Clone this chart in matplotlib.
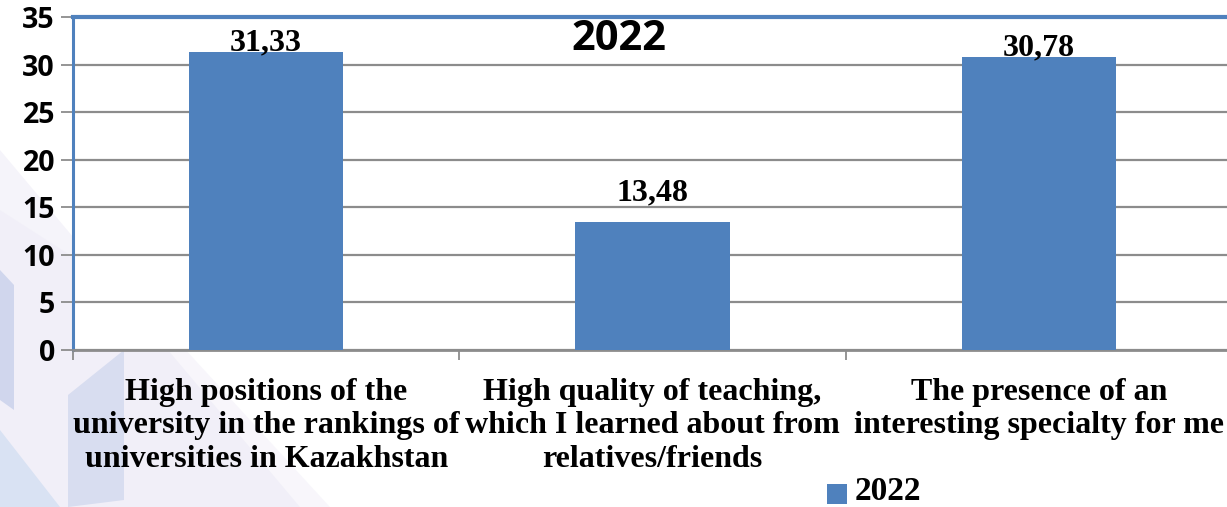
import numpy as np
import matplotlib
matplotlib.use('Agg')
import matplotlib.pyplot as plt
from matplotlib.patches import Polygon, Rectangle

# data
categories = ['High positions of the\nuniversity in the rankings of\nuniversities in Kazakhstan',
              'High quality of teaching,\nwhich I learned about from\nrelatives/friends',
              'The presence of an\ninteresting specialty for me']
values = [31.33, 13.48, 30.78]
value_labels = ['31,33', '13,48', '30,78']
series_name = '2022'
yticks = [0, 5, 10, 15, 20, 25, 30, 35]

bar_colour = '#4F81BD'
W, H = 1227, 507

fig = plt.figure(figsize=(W / 100, H / 100), dpi=100)
fig.patch.set_facecolor('white')


def px(pts):
    return [(x / W, 1 - y / H) for x, y in pts]


# faint background decoration (bottom left)
decor = [
    ([(0, 150), (0, 507), (300, 507)], '#e4e0f2', 0.35),
    ([(0, 210), (140, 300), (330, 507), (0, 507)], '#ebe8f5', 0.35),
    ([(0, 270), (14, 285), (14, 410), (0, 400)], '#a8b9e0', 0.45),
    ([(68, 395), (124, 350), (124, 500), (68, 507)], '#b3c2e4', 0.4),
    ([(0, 430), (60, 507), (0, 507)], '#bcd3ee', 0.45),
]
for pts, col, a in decor:
    fig.add_artist(Polygon(px(pts), closed=True, transform=fig.transFigure,
                           facecolor=col, edgecolor='none', alpha=a, zorder=0))

# axes placement
left, right, top, bottom = 73, 1232, 17, 350
ax = fig.add_axes([left / W, 1 - bottom / H, (right - left) / W, (bottom - top) / H])
ax.set_facecolor('white')

x = np.arange(len(values))
ax.bar(x, values, width=0.4, color=bar_colour, zorder=3)

ax.set_xlim(-0.5, len(values) - 0.5)
ax.set_ylim(0, 35)
ax.set_yticks(yticks)
ax.set_yticklabels([str(t) for t in yticks], fontfamily='Open Sans', fontweight='bold', fontsize=20.5)
ax.yaxis.grid(True, color='#8c8c8c', linewidth=1.6, zorder=1)
ax.set_axisbelow(True)

# category ticks at boundaries, labels at centers
ax.set_xticks(np.arange(len(values) + 1) - 0.5)
ax.set_xticklabels([])
ax.set_xticks(x, minor=True)
ax.set_xticklabels(categories, minor=True, fontfamily='Liberation Serif', fontweight='bold',
                   fontsize=23, linespacing=1.2, va='top')
ax.tick_params(axis='x', which='minor', length=0, pad=20)
ax.tick_params(axis='x', which='major', length=7, width=1.3, color='#8c8c8c')
ax.tick_params(axis='y', length=9, width=1.3, color='#8c8c8c', pad=4)

for side in ['top', 'left']:
    ax.spines[side].set_color(bar_colour)
ax.spines['top'].set_linewidth(3)
ax.spines['left'].set_linewidth(2.2)
ax.spines['bottom'].set_color('#8c8c8c')
ax.spines['bottom'].set_linewidth(2)
ax.spines['right'].set_visible(False)

# value labels
for xi, v, lab in zip(x, values, value_labels):
    off = 29 if v < 25 else 9
    ax.annotate(lab, (xi, v), xytext=(0, off), textcoords='offset pixels',
                ha='center', va='center', fontfamily='Liberation Serif',
                fontweight='bold', fontsize=23, zorder=5)

# title inside plot
fig.text(619 / W, 1 - 39 / H, '2022', ha='center', va='center',
         fontfamily='Open Sans', fontweight='bold', fontsize=30)

# legend
fig.add_artist(Rectangle((827 / W, 1 - 504 / H), 20 / W, 20 / H, transform=fig.transFigure,
                         facecolor=bar_colour, edgecolor='none'))
fig.text(855 / W, 1 - 492 / H, series_name, ha='left', va='center',
         fontfamily='Liberation Serif', fontweight='bold', fontsize=24)

plt.savefig('out.png', dpi=100)
